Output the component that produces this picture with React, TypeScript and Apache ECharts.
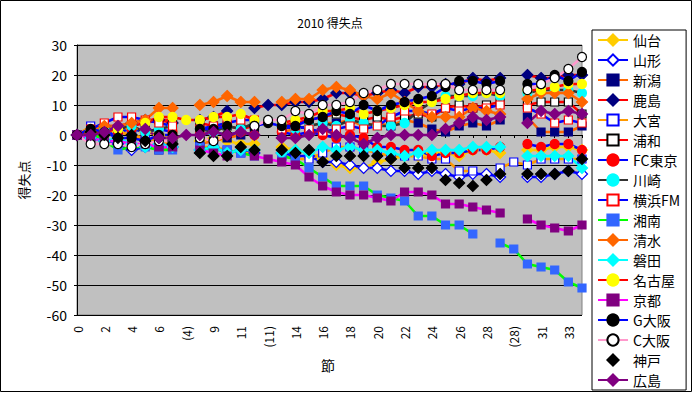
import React, { useEffect, useRef } from 'react';
import * as echarts from 'echarts';

const N = null;
const categories = ['0','1','2','3','4','5','6','7','(4)','8','9','10','11','12','(11)','13','14','15','16','17','18','19','20','21','22','23','24','25','26','27','28','29','(28)','30','31','32','33','34'];
const yTicks = { min: -60, max: 30, step: 10 };

const sendai = [0,1,0,1,2,1,0,-1,N,-2,-1,-2,-3,-3,N,-4,-5,-6,-8,-10,-11,-11,-9,-8,-7,-7,-6,-6,-7,-5,-5,-6,N,-5,-5,-4,-4,-5];
const yamagata = [0,-1,-2,-3,-5,-4,-3,-4,N,-5,-4,-6,-5,-6,N,-6,-7,-7,-9,-9,-10,-11,-11,-12,-12,-13,-12,-13,-14,-13,-13,-14,N,-14,-14,-13,-12,-13];
const niigata = [0,-1,0,1,0,-2,-5,-4,N,-3,-2,-1,0,1,N,1,2,3,4,4,5,3,4,3,5,4,2,1,3,4,3,5,N,6,1,1,1,3];
const kashima = [0,1,3,3,4,5,5,4,N,5,6,8,N,9,10,10,11,11,12,14,14,13,14,15,14,16,16,17,17,19,18,19,N,20,19,19,20,20];
const omiya = [0,3,2,1,0,-1,-2,-3,N,-4,-4,-5,-6,-6,N,-7,-8,-8,-6,-4,-4,-5,-6,-7,-7,-7,-8,-8,-12,-12,N,-11,-9,-10,-8,-8,-8,-8];
const urawa = [0,1,2,2,3,4,5,5,N,4,3,3,2,3,N,3,4,5,6,7,6,5,6,5,6,7,6,9,10,9,10,11,N,10,11,11,11,7];
const fctokyo = [0,1,0,1,2,1,2,1,N,0,1,0,1,0,N,1,0,1,0,-1,0,-1,-4,-4,-5,-5,-7,-6,-6,-5,-5,-4,N,-3,-4,-3,-3,-5];
const kawasaki = [0,1,2,2,3,1,2,3,N,2,1,3,2,4,N,3,2,3,4,3,5,4,3,3,4,8,11,13,13,13,14,13,N,14,15,15,15,14];
const yokohama = [0,2,4,6,6,5,4,3,N,2,3,4,5,5,N,2,3,2,1,2,3,2,3,6,8,8,7,9,8,9,9,10,N,9,7,4,5,4];
const shonan = [0,1,-2,-5,-4,-4,-5,-5,N,-4,-5,-5,-6,-7,N,-7,-8,-11,-14,-17,-17,-17,-20,-21,-22,-27,-27,-30,-30,-33,N,-36,-38,-43,-44,-45,-49,-51];
const shimizu = [0,1,3,3,4,5,9,9,N,10,11,13,11,11,N,11,12,12,15,16,15,13,12,14,11,8,6,6,6,9,8,7,N,12,14,14,14,11];
const iwata = [0,-1,-2,-1,-3,-4,-3,-4,N,-5,-4,-6,-5,-5,N,-6,-5,-6,-4,-5,-4,-5,-5,-6,-7,-6,-5,-5,-5,-4,-4,-4,N,-7,-7,-7,-7,-11];
const nagoya = [0,1,1,2,N,4,6,6,5,5,6,6,7,5,N,4,5,6,8,8,9,7,8,9,10,11,11,12,13,14,14,14,N,15,15,16,17,17];
const kyoto = [0,-1,-2,-2,-3,-3,-4,-4,N,-5,-6,-7,N,-7,-8,-9,-10,-14,-17,-19,-20,-20,-21,-22,-19,-19,-20,-23,-23,-24,-25,-26,N,-28,-30,-31,-32,-30];
const gosaka = [0,2,1,-1,-1,-2,0,0,N,2,2,3,N,3,4,3,3,5,6,8,7,10,8,10,11,12,13,16,18,18,17,18,N,17,17,20,18,21];
const cosaka = [0,-3,-3,-3,-4,-3,-2,-2,N,-1,-2,0,N,3,5,5,8,7,10,10,11,14,15,17,17,17,17,17,15,15,15,15,N,15,17,19,22,26];
const kobe = [0,1,0,-1,0,-2,-1,-3,N,-6,-7,-7,-4,-5,N,-5,-6,-5,-9,-7,-7,-7,-7,-8,-11,-11,-11,-15,-16,-17,-15,-13,N,-13,-13,-13,-12,-8];
const hiroshima = [0,0,1,3,N,2,-1,-1,0,0,1,0,1,0,N,-1,-1,0,2,0,-1,-3,-1,0,0,0,0,2,4,6,5,6,N,4,8,7,8,7];

const FONT = '"Noto Sans CJK JP", "Noto Sans", sans-serif';

type Def = [string, (number | null)[], string, string, string, string, number, boolean?];
const defs: Def[] = [
  ['仙台', sendai, '#FFCC00', 'diamond', '#FFCC00', '#FFCC00', 11],
  ['山形', yamagata, '#0000FF', 'diamond', '#FFFFFF', '#0000FF', 11],
  ['新潟', niigata, '#FF6600', 'rect', '#000080', '#000080', 8],
  ['鹿島', kashima, '#FF0000', 'diamond', '#000080', '#000080', 11],
  ['大宮', omiya, '#FF9900', 'rect', '#FFFFFF', '#0000FF', 8],
  ['浦和', urawa, '#FF0000', 'rect', '#FFFFFF', '#000000', 8],
  ['FC東京', fctokyo, '#0000FF', 'circle', '#FF0000', '#FF0000', 9],
  ['川崎', kawasaki, '#333333', 'circle', '#00FFFF', '#00FFFF', 9],
  ['横浜FM', yokohama, '#0000FF', 'rect', '#FFFFFF', '#FF0000', 8],
  ['湘南', shonan, '#00FF00', 'rect', '#3366FF', '#3366FF', 8],
  ['清水', shimizu, '#FF6600', 'diamond', '#FF6600', '#FF6600', 11],
  ['磐田', iwata, '#00FFFF', 'diamond', '#00FFFF', '#00FFFF', 11],
  ['名古屋', nagoya, '#FF0000', 'circle', '#FFFF00', '#FFFF00', 9],
  ['京都', kyoto, '#FF00FF', 'rect', '#800080', '#800080', 8],
  ['G大阪', gosaka, '#0000FF', 'circle', '#000000', '#000000', 9],
  ['C大阪', cosaka, '#FF99CC', 'circle', '#FFFFFF', '#000000', 9],
  ['神戸', kobe, '#000000', 'diamond', '#000000', '#000000', 11, true],
  ['広島', hiroshima, '#800080', 'diamond', '#800080', '#800080', 11],
];

export default function App() {
  const ref = useRef<HTMLDivElement>(null);
  useEffect(() => {
    document.body.style.margin = '0';
    const chart = echarts.init(ref.current!, null, { renderer: 'svg' });
    const series = defs.map(([name, data, lc, sym, fill, border, size, noLine]) => ({
      type: 'line',
      name,
      data,
      xAxisIndex: 0,
      symbol: sym,
      symbolSize: size,
      showSymbol: true,
      showAllSymbol: true,
      connectNulls: false,
      silent: true,
      itemStyle: { color: fill, borderColor: border, borderWidth: 1.2 },
      lineStyle: noLine ? { width: 0, opacity: 0, color: lc } : { width: 2.5, color: lc },
    }));
    chart.setOption({
      animation: false,
      textStyle: { fontFamily: FONT },
      grid: {
        left: 77, top: 45, right: 112, bottom: 78,
        show: true, backgroundColor: '#C0C0C0', borderColor: '#808080', borderWidth: 1,
      },
      legend: {
        orient: 'vertical', left: 592, top: 30,
        itemWidth: 30, itemHeight: 14, itemGap: 6,
        padding: [3, 6, 3, 5],
        borderColor: '#000', borderWidth: 1, backgroundColor: '#fff',
        textStyle: { fontSize: 14, color: '#000', fontFamily: FONT, lineHeight: 14 },
        data: defs.map(d => d[0]),
        selectedMode: false,
      },
      xAxis: [
        {
          type: 'category', data: categories, boundaryGap: false, position: 'bottom',
          axisLine: { show: false, onZero: false },
          axisTick: { show: false },
          splitLine: { show: false },
          axisLabel: { interval: 1, rotate: 90, fontSize: 12, color: '#000', margin: 11, fontFamily: FONT },
        },
        {
          type: 'category', data: categories, boundaryGap: false, position: 'bottom',
          axisLine: { show: true, onZero: true, lineStyle: { color: '#000', width: 1 } },
          axisTick: { show: true, interval: 0, length: 3, lineStyle: { color: '#000' } },
          axisLabel: { show: false },
          splitLine: { show: false },
        },
      ],
      yAxis: {
        type: 'value', min: yTicks.min, max: yTicks.max, interval: yTicks.step,
        name: '得失点', nameLocation: 'middle', nameGap: 47,
        nameTextStyle: { fontSize: 13, color: '#000', fontFamily: FONT },
        axisLine: { show: true, lineStyle: { color: '#000' } },
        axisTick: { show: true, length: 3, lineStyle: { color: '#000' } },
        splitLine: { lineStyle: { color: '#000', width: 1 } },
        axisLabel: { fontSize: 14, color: '#000', margin: 10, fontFamily: FONT },
      },
      graphic: [
        { type: 'rect', shape: { x: 0.5, y: 0.5, width: 691, height: 391 }, style: { fill: 'none', stroke: '#000', lineWidth: 1 }, silent: true },
        { type: 'text', x: 330, y: 22, style: { text: '2010 得失点', align: 'center', verticalAlign: 'middle', textAlign: 'center', textVerticalAlign: 'middle', fontSize: 12, fontFamily: FONT, fill: '#000' } },
        { type: 'text', x: 328, y: 365, style: { text: '節', align: 'center', verticalAlign: 'middle', textAlign: 'center', textVerticalAlign: 'middle', fontSize: 14, fontFamily: FONT, fill: '#000' } },
      ],
      series,
    });
    return () => chart.dispose();
  }, []);
  return <div ref={ref} style={{ width: 694, height: 393 }} />;
}
